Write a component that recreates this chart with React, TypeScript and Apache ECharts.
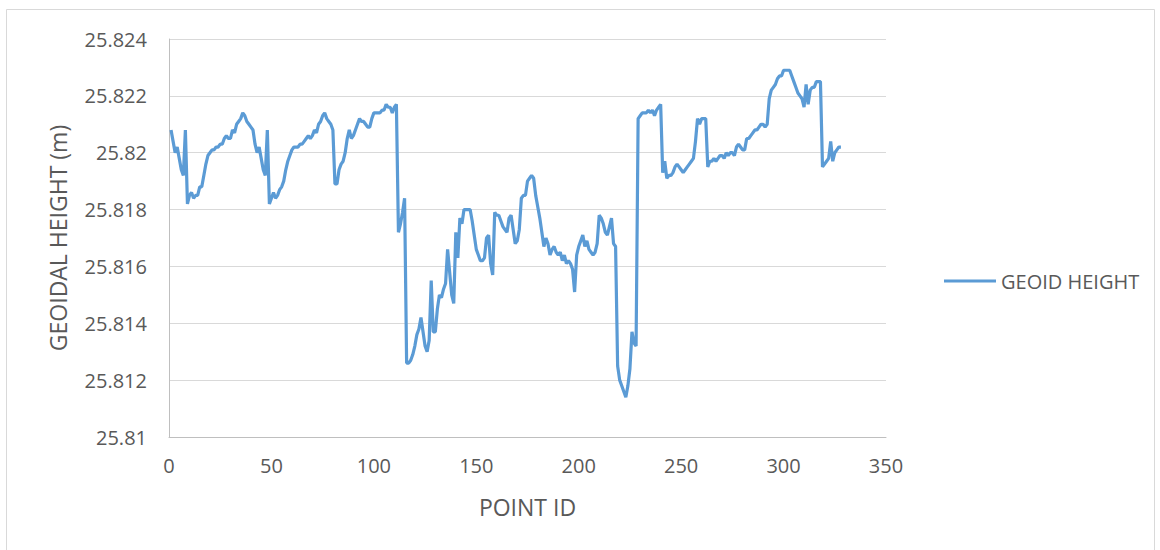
import React, { useEffect, useRef } from "react";
import * as echarts from "echarts";

// Point IDs and geoidal heights (m)
const pointIds: number[] = [
  1, 2, 3, 4, 5, 6, 7, 8, 9, 10, 11, 12, 13, 14, 15, 16, 17, 18, 19, 20,
  21, 22, 23, 24, 25, 26, 27, 28, 29, 30, 31, 32, 33, 34, 35, 36, 37, 38, 39, 40,
  41, 42, 43, 44, 45, 46, 47, 48, 49, 50, 51, 52, 53, 54, 55, 56, 57, 58, 59, 60,
  61, 62, 63, 64, 65, 66, 67, 68, 69, 70, 71, 72, 73, 74, 75, 76, 77, 78, 79, 80,
  81, 82, 83, 84, 85, 86, 87, 88, 89, 90, 91, 92, 93, 94, 95, 96, 97, 98, 99, 100,
  101, 102, 103, 104, 105, 106, 107, 108, 109, 110, 111, 112, 113, 114, 115, 116, 117, 118, 119, 120,
  121, 122, 123, 124, 125, 126, 127, 128, 129, 130, 131, 132, 133, 134, 135, 136, 137, 138, 139, 140,
  141, 142, 143, 144, 145, 146, 147, 148, 149, 150, 151, 152, 153, 154, 155, 156, 157, 158, 159, 160,
  161, 162, 163, 164, 165, 166, 167, 168, 169, 170, 171, 172, 173, 174, 175, 176, 177, 178, 179, 180,
  181, 182, 183, 184, 185, 186, 187, 188, 189, 190, 191, 192, 193, 194, 195, 196, 197, 198, 199, 200,
  201, 202, 203, 204, 205, 206, 207, 208, 209, 210, 211, 212, 213, 214, 215, 216, 217, 218, 219, 220,
  221, 222, 223, 224, 225, 226, 227, 228, 229, 230, 231, 232, 233, 234, 235, 236, 237, 238, 239, 240,
  241, 242, 243, 244, 245, 246, 247, 248, 249, 250, 251, 252, 253, 254, 255, 256, 257, 258, 259, 260,
  261, 262, 263, 264, 265, 266, 267, 268, 269, 270, 271, 272, 273, 274, 275, 276, 277, 278, 279, 280,
  281, 282, 283, 284, 285, 286, 287, 288, 289, 290, 291, 292, 293, 294, 295, 296, 297, 298, 299, 300,
  301, 302, 303, 304, 305, 306, 307, 308, 309, 310, 311, 312, 313, 314, 315, 316, 317, 318, 319, 320,
  321, 322, 323, 324, 325, 326, 327, 328,
];

const geoidHeights: number[] = [
  25.8208, 25.8204, 25.8200, 25.8202, 25.8198, 25.8194, 25.8192, 25.8208, 25.8182, 25.8185,
  25.8186, 25.8184, 25.8185, 25.8185, 25.8188, 25.8188, 25.8192, 25.8196, 25.8199, 25.8200,
  25.8201, 25.8201, 25.8202, 25.8202, 25.8203, 25.8203, 25.8205, 25.8206, 25.8205, 25.8205,
  25.8208, 25.8207, 25.8210, 25.8211, 25.8212, 25.8214, 25.8213, 25.8211, 25.8210, 25.8209,
  25.8208, 25.8203, 25.8200, 25.8202, 25.8198, 25.8194, 25.8192, 25.8208, 25.8182, 25.8184,
  25.8186, 25.8184, 25.8185, 25.8187, 25.8188, 25.8190, 25.8194, 25.8197, 25.8199, 25.8201,
  25.8202, 25.8202, 25.8202, 25.8203, 25.8203, 25.8204, 25.8205, 25.8206, 25.8205, 25.8206,
  25.8208, 25.8207, 25.8210, 25.8211, 25.8213, 25.8214, 25.8212, 25.8211, 25.8210, 25.8208,
  25.8189, 25.8189, 25.8194, 25.8196, 25.8197, 25.8200, 25.8205, 25.8208, 25.8205, 25.8206,
  25.8208, 25.8210, 25.8212, 25.8211, 25.8211, 25.8210, 25.8209, 25.8209, 25.8212, 25.8214,
  25.8214, 25.8214, 25.8214, 25.8215, 25.8215, 25.8217, 25.8216, 25.8216, 25.8214, 25.8216,
  25.8217, 25.8172, 25.8175, 25.8179, 25.8184, 25.8126, 25.8126, 25.8127, 25.8129, 25.8132,
  25.8136, 25.8138, 25.8142, 25.8137, 25.8132, 25.8130, 25.8134, 25.8155, 25.8137, 25.8137,
  25.8145, 25.8150, 25.8149, 25.8152, 25.8154, 25.8166, 25.8158, 25.8150, 25.8147, 25.8172,
  25.8163, 25.8177, 25.8175, 25.8180, 25.8180, 25.8180, 25.8180, 25.8176, 25.8171, 25.8166,
  25.8164, 25.8162, 25.8162, 25.8163, 25.8170, 25.8171, 25.8161, 25.8157, 25.8179, 25.8178,
  25.8178, 25.8176, 25.8174, 25.8173, 25.8172, 25.8177, 25.8178, 25.8173, 25.8168, 25.8169,
  25.8173, 25.8184, 25.8185, 25.8185, 25.8190, 25.8191, 25.8192, 25.8191, 25.8185, 25.8181,
  25.8177, 25.8172, 25.8167, 25.8170, 25.8168, 25.8164, 25.8166, 25.8167, 25.8165, 25.8164,
  25.8165, 25.8162, 25.8164, 25.8161, 25.8162, 25.8161, 25.8159, 25.8151, 25.8164, 25.8167,
  25.8169, 25.8171, 25.8167, 25.8169, 25.8166, 25.8165, 25.8164, 25.8165, 25.8168, 25.8178,
  25.8177, 25.8175, 25.8172, 25.8171, 25.8174, 25.8177, 25.8168, 25.8167, 25.8125, 25.8120,
  25.8118, 25.8116, 25.8114, 25.8118, 25.8124, 25.8137, 25.8133, 25.8132, 25.8212, 25.8213,
  25.8214, 25.8214, 25.8214, 25.8215, 25.8214, 25.8215, 25.8213, 25.8215, 25.8216, 25.8217,
  25.8193, 25.8197, 25.8191, 25.8192, 25.8192, 25.8193, 25.8195, 25.8196, 25.8195, 25.8194,
  25.8193, 25.8194, 25.8195, 25.8196, 25.8197, 25.8198, 25.8204, 25.8212, 25.8210, 25.8212,
  25.8212, 25.8212, 25.8195, 25.8197, 25.8197, 25.8198, 25.8197, 25.8198, 25.8199, 25.8199,
  25.8198, 25.8200, 25.8199, 25.8200, 25.8200, 25.8199, 25.8202, 25.8203, 25.8202, 25.8201,
  25.8201, 25.8205, 25.8205, 25.8206, 25.8207, 25.8208, 25.8208, 25.8209, 25.8210, 25.8210,
  25.8209, 25.8210, 25.8219, 25.8222, 25.8223, 25.8224, 25.8226, 25.8227, 25.8227, 25.8229,
  25.8229, 25.8229, 25.8229, 25.8227, 25.8225, 25.8223, 25.8221, 25.8220, 25.8219, 25.8216,
  25.8224, 25.8217, 25.8222, 25.8223, 25.8223, 25.8225, 25.8225, 25.8225, 25.8195, 25.8196,
  25.8197, 25.8198, 25.8204, 25.8197, 25.8200, 25.8201, 25.8202, 25.8202,
];

const seriesName = "GEOID HEIGHT";
const xAxisTitle = "POINT ID";
const yAxisTitle = "GEOIDAL HEIGHT (m)";

export default function App() {
  const ref = useRef<HTMLDivElement>(null);

  useEffect(() => {
    if (!ref.current) return;
    const chart = echarts.init(ref.current, undefined, { renderer: "svg" });
    const font = "'Open Sans', 'Liberation Sans', sans-serif";
    const data = pointIds.map((id, i) => [id, geoidHeights[i]]);
    chart.setOption({
      animation: false,
      backgroundColor: "#ffffff",
      textStyle: { fontFamily: font },
      graphic: [
        {
          type: "rect",
          shape: { x: 6.5, y: 9.5, width: 1148, height: 560 },
          style: { fill: "none", stroke: "#d9d9d9", lineWidth: 1 },
          silent: true,
        },
      ],
      grid: { left: 169, right: 274, top: 39, bottom: 113, containLabel: false },
      legend: {
        show: true,
        left: 939,
        top: 266,
        icon: "rect",
        itemWidth: 52,
        itemHeight: 3,
        itemGap: 6,
        textStyle: { fontFamily: font, fontSize: 20, color: "#595959" },
        data: [seriesName],
      },
      xAxis: {
        type: "value",
        min: 0,
        max: 350,
        interval: 50,
        name: xAxisTitle,
        nameLocation: "middle",
        nameGap: 58,
        nameTextStyle: { fontFamily: font, fontSize: 23, color: "#595959" },
        axisLine: { show: true, lineStyle: { color: "#bfbfbf", width: 1 } },
        axisTick: { show: false },
        splitLine: { show: false },
        axisLabel: { fontFamily: font, fontSize: 20, color: "#595959", margin: 18 },
      },
      yAxis: {
        type: "value",
        min: 25.81,
        max: 25.824,
        interval: 0.002,
        name: yAxisTitle,
        nameLocation: "middle",
        nameGap: 100,
        nameTextStyle: { fontFamily: font, fontSize: 23, color: "#595959" },
        axisLine: { show: true, lineStyle: { color: "#bfbfbf", width: 1 } },
        axisTick: { show: false },
        splitLine: { show: true, lineStyle: { color: "#d9d9d9", width: 1 } },
        axisLabel: {
          fontFamily: font,
          fontSize: 20,
          color: "#595959",
          margin: 22,
          formatter: (v: number) => String(parseFloat(v.toFixed(3))),
        },
      },
      series: [
        {
          name: seriesName,
          type: "line",
          data,
          showSymbol: false,
          symbol: "none",
          lineStyle: { color: "#5b9bd5", width: 3.2 },
          itemStyle: { color: "#5b9bd5" },
        },
      ],
    });
    return () => chart.dispose();
  }, []);

  return (
    <div
      ref={ref}
      style={{ position: "fixed", left: 0, top: 0, width: 1160, height: 550 }}
    />
  );
}
